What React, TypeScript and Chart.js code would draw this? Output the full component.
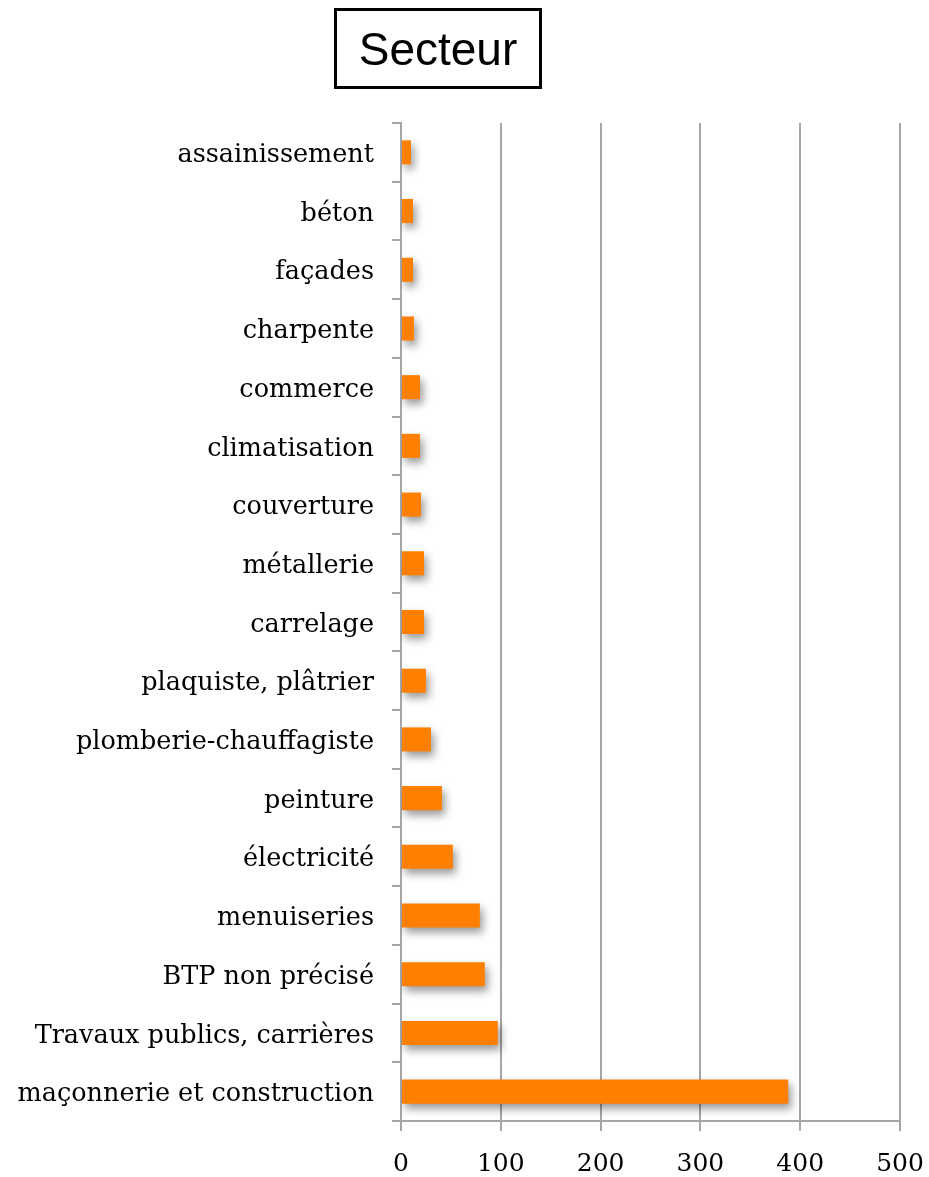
import React, { useEffect, useRef } from "react";
import { Chart, registerables } from "chart.js";

Chart.register(...registerables);

const TITLE = "Secteur";

const categories: string[] = [
  "assainissement",
  "béton",
  "façades",
  "charpente",
  "commerce",
  "climatisation",
  "couverture",
  "métallerie",
  "carrelage",
  "plaquiste, plâtrier",
  "plomberie-chauffagiste",
  "peinture",
  "électricité",
  "menuiseries",
  "BTP non précisé",
  "Travaux publics, carrières",
  "maçonnerie et construction",
];

const values: number[] = [10, 12, 12, 13, 19, 19, 20, 23, 23, 25, 30, 41, 52, 79, 84, 97, 388];

const xTicks: number[] = [0, 100, 200, 300, 400, 500];

const shadowPlugin = {
  id: "barShadow",
  beforeDatasetsDraw(chart: any) {
    const ctx = chart.ctx;
    ctx.save();
    ctx.shadowColor = "rgba(0,0,0,0.4)";
    ctx.shadowBlur = 9;
    ctx.shadowOffsetX = 3;
    ctx.shadowOffsetY = 5;
  },
  afterDatasetsDraw(chart: any) {
    chart.ctx.restore();
  },
};

export default function App() {
  const canvasRef = useRef<HTMLCanvasElement | null>(null);

  useEffect(() => {
    document.body.style.margin = "0";
    const canvas = canvasRef.current;
    if (!canvas) return;
    const grey = "#a6a6a6";
    const chart = new Chart(canvas, {
      type: "bar",
      data: {
        labels: categories,
        datasets: [
          {
            data: values,
            backgroundColor: "#ff7f00",
            borderWidth: 0,
            categoryPercentage: 1,
            barPercentage: 0.41,
          },
        ],
      },
      options: {
        indexAxis: "y",
        animation: false,
        responsive: false,
        maintainAspectRatio: false,
        devicePixelRatio: 1,
        layout: { padding: { left: 0, right: 29, top: 123, bottom: 0 } },
        plugins: {
          legend: { display: false },
          title: { display: false },
          tooltip: { enabled: false },
        },
        scales: {
          x: {
            type: "linear",
            min: 0,
            max: 500,
            afterBuildTicks: (scale: any) => {
              scale.ticks = xTicks.map((v) => ({ value: v }));
            },
            afterFit: (scale: any) => {
              scale.height = 56;
              scale.paddingLeft = 0;
              scale.paddingRight = 0;
            },
            grid: {
              color: grey,
              lineWidth: 2,
              drawTicks: true,
              tickLength: 10,
              tickColor: grey,
            },
            border: { display: true, color: grey, width: 2 },
            ticks: {
              color: "#000",
              padding: 18,
              font: { family: "'DejaVu Serif'", size: 25 },
            },
          },
          y: {
            type: "category",
            afterFit: (scale: any) => {
              scale.width = 401;
              scale.paddingTop = 0;
              scale.paddingBottom = 0;
            },
            grid: {
              offset: true,
              drawOnChartArea: false,
              drawTicks: true,
              tickLength: 9,
              color: grey,
              lineWidth: 2,
            },
            border: { display: true, color: grey, width: 2 },
            ticks: {
              color: "#000",
              padding: 18,
              labelOffset: 3,
              autoSkip: false,
              font: { family: "'DejaVu Serif'", size: 25.5 },
            },
          },
        },
      },
      plugins: [shadowPlugin],
    });
    return () => chart.destroy();
  }, []);

  return (
    <div style={{ position: "relative", width: 929, height: 1177, background: "#fff" }}>
      <canvas ref={canvasRef} width={929} height={1177} style={{ display: "block", width: 929, height: 1177 }} />
      <div
        style={{
          position: "absolute",
          left: 334,
          top: 8,
          width: 208,
          height: 81,
          boxSizing: "border-box",
          border: "3.5px solid #000",
          display: "flex",
          alignItems: "center",
          justifyContent: "center",
          fontFamily: "'Liberation Sans', Arial, sans-serif",
          fontSize: 46,
          color: "#000",
          lineHeight: 1,
        }}
      >
        {TITLE}
      </div>
    </div>
  );
}
